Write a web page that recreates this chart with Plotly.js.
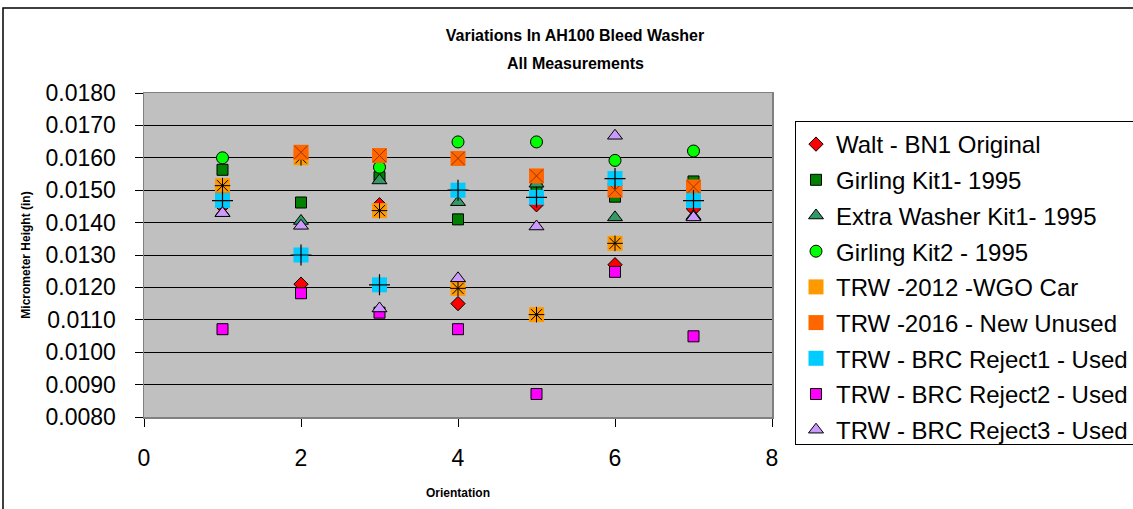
<!DOCTYPE html>
<html>
<head>
<meta charset="utf-8">
<script src="https://cdn.plot.ly/plotly-3.0.1.min.js"></script>
<style>
html,body{margin:0;padding:0;background:#fff;}
#chart{width:1133px;height:509px;}
</style>
</head>
<body>
<div id="chart"></div>
<script>
// Orientation positions
const orientation = [1, 2, 3, 4, 5, 6, 7];

// Series names
const seriesNames = [
  "Walt - BN1 Original",
  "Girling Kit1- 1995",
  "Extra Washer Kit1- 1995",
  "Girling Kit2 - 1995",
  "TRW -2012 -WGO Car",
  "TRW -2016 - New Unused",
  "TRW - BRC Reject1 - Used",
  "TRW - BRC Reject2 - Used",
  "TRW - BRC Reject3 - Used"
];

// Micrometer heights (in)
const walt      = [0.0145, 0.0121, 0.01455, 0.0115, 0.01455, 0.0127, 0.01442];
const kit1      = [0.01563, 0.01462, 0.0154, 0.0141, 0.0151, 0.0148, 0.01527];
const extraKit1 = [0.0143, 0.01405, 0.0153, 0.01463, 0.0152, 0.01416, 0.0142];
const kit2      = [0.0160, 0.0160, 0.01571, 0.01649, 0.01649, 0.01592, 0.01621];
const trw2012   = [0.01514, 0.0160, 0.01437, 0.01197, 0.01116, 0.01336, 0.0150];
const trw2016   = [0.0147, 0.01617, 0.01607, 0.01598, 0.01544, 0.0150, 0.0151];
const reject1   = [0.01468, 0.0130, 0.01208, 0.0150, 0.01478, 0.01536, 0.01468];
const reject2   = [0.01071, 0.01182, 0.01122, 0.01071, 0.00871, 0.01248, 0.01049];
const reject3   = [0.01429, 0.0139, 0.01135, 0.01228, 0.01388, 0.01668, 0.01416];

function pts(name, y, grp, marker, show) {
  return {
    type: 'scatter', mode: 'markers', x: orientation, y: y,
    name: name, legendgroup: grp, showlegend: show !== false,
    marker: marker, hoverinfo: 'x+y+name'
  };
}
const blk = {color: '#000000', width: 1};

const traces = [
  pts(seriesNames[0], walt, 'g0', {symbol: 'diamond', color: '#FF0000', size: 11, line: blk}),
  pts(seriesNames[1], kit1, 'g1', {symbol: 'square', color: '#008000', size: 11, line: blk}),
  pts(seriesNames[2], extraKit1, 'g2', {symbol: 'triangle-up', color: '#339966', size: 13, line: blk}),
  pts(seriesNames[3], kit2, 'g3', {symbol: 'circle', color: '#00FF00', size: 12, line: blk}),
  pts(seriesNames[4], trw2012, 'g4', {symbol: 'square', color: '#FF9900', size: 15, line: {width: 0}}),
  pts(seriesNames[4], trw2012, 'g4', {symbol: 'asterisk-open', color: '#000000', size: 13, line: {color: '#000000', width: 1}}, false),
  pts(seriesNames[5], trw2016, 'g5', {symbol: 'square', color: '#FF6600', size: 15, line: {width: 0}}),
  pts(seriesNames[5], trw2016, 'g5', {symbol: 'x-thin-open', color: '#993300', size: 13, line: {color: '#993300', width: 1}}, false),
  pts(seriesNames[6], reject1, 'g6', {symbol: 'square', color: '#00CCFF', size: 15, line: {width: 0}}),
  pts(seriesNames[6], reject1, 'g6', {symbol: 'cross-thin-open', color: '#000000', size: 15, line: {color: '#000000', width: 1.2}}, false),
  pts(seriesNames[7], reject2, 'g7', {symbol: 'square', color: '#FF00FF', size: 11, line: blk}),
  pts(seriesNames[8], reject3, 'g8', {symbol: 'triangle-up', color: '#CC99FF', size: 13, line: blk})
];

const F = 'Liberation Sans, Arial, sans-serif';

const layout = {
  width: 1133, height: 509,
  margin: {l: 144, r: 361, t: 93, b: 92, pad: 0, autoexpand: false},
  paper_bgcolor: '#FFFFFF',
  plot_bgcolor: '#C0C0C0',
  font: {family: F, color: '#000000'},
  showlegend: true,
  title: {
    text: '<b>Variations In AH100 Bleed Washer</b>',
    xref: 'container', yref: 'container',
    x: 0.5075, y: 1 - 35/509, xanchor: 'center', yanchor: 'middle',
    font: {family: F, size: 16, color: '#000000'}
  },
  annotations: [{
    text: '<b>All Measurements</b>', xref: 'paper', yref: 'paper',
    x: (575 - 144) / 628, y: (417 - 63) / 324, xanchor: 'center', yanchor: 'middle',
    showarrow: false, font: {family: F, size: 16, color: '#000000'}
  }],
  xaxis: {
    range: [0, 8], dtick: 2, tick0: 0,
    ticks: 'outside', ticklen: 8, tickcolor: '#000000', tickwidth: 1,
    showgrid: false, zeroline: false, automargin: false,
    showline: true, linecolor: '#808080', linewidth: 1.5, mirror: true,
    tickfont: {family: F, size: 23, color: '#000000'},
    ticklabelstandoff: 12,
    title: {text: '<b>Orientation</b>', font: {family: F, size: 12, color: '#000000'}, standoff: 18}
  },
  yaxis: {
    range: [0.008, 0.018], dtick: 0.001, tick0: 0.008, tickformat: '.4f',
    ticks: 'outside', ticklen: 8, tickcolor: '#000000', tickwidth: 1,
    showgrid: true, gridcolor: '#000000', gridwidth: 1,
    zeroline: false, automargin: false,
    showline: true, linecolor: '#808080', linewidth: 1.5, mirror: true,
    tickfont: {family: F, size: 23, color: '#000000'},
    ticklabelstandoff: 14,
    title: {text: '<b>Micrometer Height (in)</b>', font: {family: F, size: 12, color: '#000000'}, standoff: 12}
  },
  legend: {
    x: (795 - 144) / 628, y: (417 - 121) / 324, xanchor: 'left', yanchor: 'top',
    bgcolor: '#FFFFFF', bordercolor: '#000000', borderwidth: 1,
    font: {family: F, size: 24, color: '#000000'},
    tracegroupgap: 1.5, itemsizing: 'trace'
  },
  shapes: [{
    type: 'rect', xref: 'paper', yref: 'paper',
    x0: (3 - 144) / 628, x1: 2, y0: -1, y1: (417 - 8) / 324,
    line: {color: '#000000', width: 1.5}, fillcolor: 'rgba(0,0,0,0)', layer: 'below'
  }]
};

Plotly.newPlot('chart', traces, layout, {displayModeBar: false, staticPlot: true});
</script>
</body>
</html>
